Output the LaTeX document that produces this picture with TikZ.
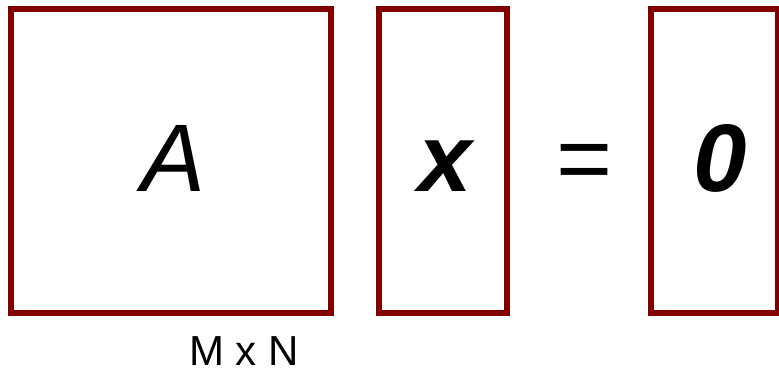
\documentclass[tikz,border=0pt]{standalone}
\usepackage{fontspec}
\setmainfont{Liberation Sans}
\definecolor{boxred}{RGB}{128,0,0}
\begin{document}
\begin{tikzpicture}[x=1pt,y=-1pt,
  matbox/.style={draw=boxred, line width=6pt, inner sep=0pt, outer sep=0pt, rectangle},
  bigtxt/.style={inner sep=0pt, anchor=base, font=\fontsize{96}{96}\selectfont},
  dimtxt/.style={inner sep=0pt, anchor=base, text depth=0pt, font=\fontsize{42}{42}\selectfont}]
\useasboundingbox (0,0) rectangle (779,371);
\node[matbox, minimum width=320pt, minimum height=304pt] (boxA) at (171,161) {};
\node[matbox, minimum width=128pt, minimum height=304pt] (boxX) at (443,161) {};
\node[matbox, minimum width=127pt, minimum height=304pt] (boxZ) at (714.5,161) {};
\node[bigtxt] (tA) at (174,192) {\itshape A};
\node[bigtxt] (tX) at (445,192) {\bfseries\itshape x};
\node[bigtxt] (tEq) at (585,192) {=};
\node[bigtxt] (tZ) at (720,192) {\bfseries\itshape 0};
\node[dimtxt] (tMN) at (244,365) {M x N};
\end{tikzpicture}
\end{document}
